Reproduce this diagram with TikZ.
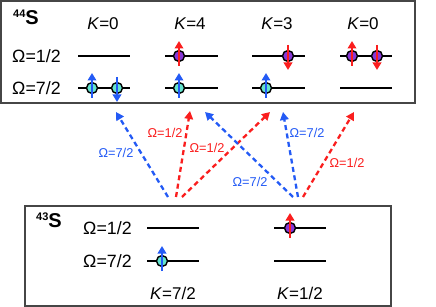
\documentclass[tikz,border=0pt]{standalone}
\usepackage{fontspec}
\setmainfont{Liberation Sans}
\usetikzlibrary{arrows.meta}
\definecolor{bl}{RGB}{35,90,245}
\definecolor{rd}{RGB}{250,30,30}
\definecolor{cy}{RGB}{100,228,205}
\definecolor{pu}{RGB}{135,55,215}
\definecolor{bx}{RGB}{70,70,70}
\newcommand{\SpinUp}[5]{% name, x, y, fill, arrow colour
  \node[spincirc, fill=#4] (#1) at (#2,#3) {};
  \draw[spinarr, #5] (#1.center) ++(0,10) -- ++(0,-25);}
\newcommand{\SpinDown}[5]{%
  \node[spincirc, fill=#4] (#1) at (#2,#3) {};
  \draw[spinarr, #5] (#1.center) ++(0,-11) -- ++(0,25);}
\begin{document}
\begin{tikzpicture}[x=1pt,y=-1pt,
  boxline/.style={draw=bx, line width=1.4pt},
  levelline/.style={line width=2.1pt, black},
  spincirc/.style={circle, draw=black, line width=1.4pt, minimum size=11pt, inner sep=0pt},
  spinarr/.style={line width=2.8pt, -{Triangle[width=8.5pt,length=7.5pt]}},
  mainlbl/.style={font=\fontsize{17.8}{20}\selectfont, inner sep=0pt},
  klbl/.style={font=\fontsize{17}{20}\selectfont, inner sep=0pt},
  trans/.style={dashed, dash pattern=on 5pt off 3.5pt, line width=2.3pt, -{Triangle[width=8.5pt,length=8pt]}},
  translbl/.style={font=\fontsize{12.8}{15}\selectfont, inner sep=0pt},
]
\useasboundingbox (0,0) rectangle (436,307);
% boxes
\draw[boxline] (1,1) rectangle (415,103);
\draw[boxline] (25,206) rectangle (391,306);
% titles
\node[anchor=base west, inner sep=0pt] (t44) at (13,24.5) {\bfseries\raisebox{7pt}{\fontsize{11}{12}\selectfont 44}\fontsize{20}{22}\selectfont S};
\node[anchor=base west, inner sep=0pt] (t43) at (36,227.5) {\bfseries\raisebox{7pt}{\fontsize{11}{12}\selectfont 43}\fontsize{20}{22}\selectfont S};
% top labels
\node[klbl] (k1) at (103,24) {\textit{K}=0};
\node[klbl] (k2) at (190,24) {\textit{K}=4};
\node[klbl] (k3) at (277,24) {\textit{K}=3};
\node[klbl] (k4) at (363,24) {\textit{K}=0};
\node[mainlbl, anchor=west] (o1t) at (12,56) {Ω=1/2};
\node[mainlbl, anchor=west] (o7t) at (12,88) {Ω=7/2};
% top levels
\foreach \a/\b in {78/130,165/218,252/305,340/392}{
  \draw[levelline] (\a,56) -- (\b,56);
  \draw[levelline] (\a,88) -- (\b,88);
}
% top spins
\SpinUp{s1}{92}{88}{cy}{bl}
\SpinDown{s2}{117}{88}{cy}{bl}
\SpinUp{s3}{179}{56}{pu}{rd}
\SpinUp{s4}{179}{88}{cy}{bl}
\SpinDown{s5}{288}{56}{pu}{rd}
\SpinUp{s6}{266}{88}{cy}{bl}
\SpinUp{s7}{352}{56}{pu}{rd}
\SpinDown{s8}{377}{56}{pu}{rd}
% bottom labels and levels
\node[mainlbl, anchor=west] (o1b) at (83,228) {Ω=1/2};
\node[mainlbl, anchor=west] (o7b) at (83,261) {Ω=7/2};
\node[klbl] (k5) at (173,293) {\textit{K}=7/2};
\node[klbl] (k6) at (300,293) {\textit{K}=1/2};
\draw[levelline] (147,228) -- (199,228);
\draw[levelline] (147,261) -- (199,261);
\draw[levelline] (274,228) -- (326,228);
\draw[levelline] (274,261) -- (326,261);
\SpinUp{s9}{162}{261}{cy}{bl}
\SpinUp{s10}{290}{228}{pu}{rd}
% transition end points
\coordinate (a1) at (168,197); \coordinate (b1) at (116,112);
\coordinate (a2) at (176,197); \coordinate (b2) at (190,111);
\coordinate (a3) at (182,197); \coordinate (b3) at (270,112);
\coordinate (a4) at (293,197); \coordinate (b4) at (205,112);
\coordinate (a5) at (298,197); \coordinate (b5) at (283,112);
\coordinate (a6) at (303,197); \coordinate (b6) at (354,112);
\draw[trans, bl] (a1) -- (b1);
\draw[trans, rd] (a2) -- (b2);
\draw[trans, rd] (a3) -- (b3);
\draw[trans, bl] (a4) -- (b4);
\draw[trans, bl] (a5) -- (b5);
\draw[trans, rd] (a6) -- (b6);
\node[translbl, text=bl] (l1) at (116,153) {Ω=7/2};
\node[translbl, text=rd] (l2) at (165,133) {Ω=1/2};
\node[translbl, text=rd] (l3) at (207,148) {Ω=1/2};
\node[translbl, text=bl] (l4) at (307,133) {Ω=7/2};
\node[translbl, text=bl] (l5) at (250,182) {Ω=7/2};
\node[translbl, text=rd] (l6) at (347,163) {Ω=1/2};
\end{tikzpicture}
\end{document}
